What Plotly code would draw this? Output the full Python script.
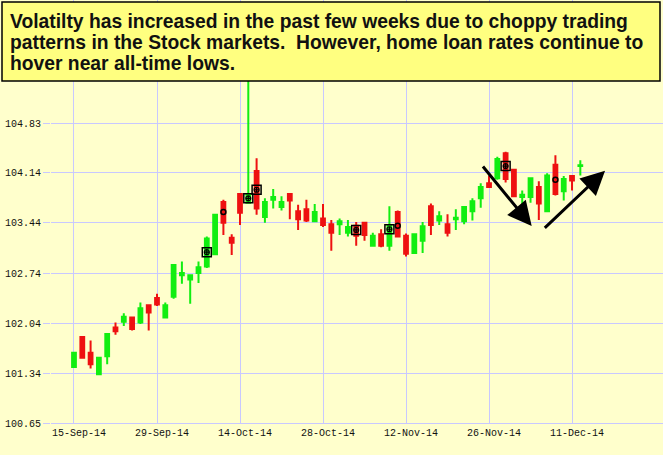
import plotly.graph_objects as go
import pandas as pd

# ---------------- data ----------------
holidays = ["2014-10-13", "2014-11-11", "2014-11-27"]
days = [d for d in pd.bdate_range("2014-09-15", "2014-12-12")
        if d.strftime("%Y-%m-%d") not in holidays]
dates = [d.strftime("%d-%b-%y") for d in days]

opens = [101.43, 101.85, 101.63, 101.33, 101.58, 101.98, 102.06, 102.12, 102.05, 102.29,
         102.39, 102.12, 102.41, 102.71, 102.65, 102.74, 102.83, 103.00, 103.73, 103.23,
         103.84, 103.72, 104.16, 103.52, 103.76, 103.66, 103.84, 103.60, 103.63, 103.46,
         103.50, 103.42, 103.42, 103.30, 103.40, 103.44, 103.12, 103.28, 103.12, 103.59,
         103.26, 103.02, 103.19, 103.67, 103.47, 103.42, 103.49, 103.46, 103.60, 103.78,
         103.99, 104.06, 104.41, 104.18, 103.80, 103.80, 103.94, 103.60, 104.25, 103.88,
         104.09, 104.23]
highs = [101.64, 101.86, 101.80, 101.57, 101.90, 102.05, 102.18, 102.13, 102.33, 102.30,
         102.45, 102.33, 102.86, 102.90, 102.72, 102.90, 103.25, 103.56, 103.76, 103.28,
         103.85, 105.95, 104.34, 103.78, 103.91, 103.81, 103.85, 103.69, 103.76, 103.70,
         103.70, 103.48, 103.50, 103.48, 103.45, 103.45, 103.30, 103.35, 103.67, 103.61,
         103.29, 103.29, 103.45, 103.71, 103.60, 103.56, 103.63, 103.67, 103.78, 103.99,
         104.10, 104.36, 104.43, 104.19, 103.89, 104.07, 104.02, 104.13, 104.38, 104.09,
         104.10, 104.31]
lows = [101.42, 101.55, 101.41, 101.32, 101.47, 101.88, 102.00, 101.94, 102.03, 101.94,
        102.28, 102.11, 102.38, 102.59, 102.31, 102.60, 102.81, 102.99, 103.27, 102.99,
        103.41, 103.71, 103.55, 103.44, 103.64, 103.61, 103.49, 103.34, 103.45, 103.45,
        103.38, 103.05, 103.27, 103.25, 103.12, 103.19, 103.11, 103.10, 103.05, 103.24,
        102.97, 103.01, 103.02, 103.27, 103.41, 103.25, 103.34, 103.42, 103.47, 103.65,
        103.93, 104.04, 104.00, 103.80, 103.67, 103.72, 103.48, 103.59, 103.82, 103.75,
        103.89, 104.10]
closes = [101.63, 101.56, 101.47, 101.56, 101.89, 101.93, 102.13, 101.96, 102.25, 102.19,
          102.30, 102.29, 102.85, 102.74, 102.71, 102.82, 103.22, 103.55, 103.44, 103.16,
          103.58, 103.84, 103.64, 103.73, 103.80, 103.73, 103.75, 103.49, 103.47, 103.59,
          103.41, 103.30, 103.46, 103.38, 103.26, 103.27, 103.26, 103.12, 103.41, 103.25,
          103.01, 103.28, 103.39, 103.41, 103.53, 103.30, 103.51, 103.66, 103.74, 103.94,
          103.94, 104.33, 104.05, 103.81, 103.83, 104.06, 103.71, 104.10, 103.84, 104.05,
          104.03, 104.24]

box_idx = [16, 21, 22, 34, 38, 52]
box_val = [103.03, 103.78, 103.90, 103.34, 103.35, 104.23]
circle_idx = [18, 39, 58]
circle_val = [103.59, 103.40, 104.04]

ytick_labels = ["100.65", "101.34", "102.04", "102.74", "103.44", "104.14", "104.83"]
xtick_labels = dates[::10]

arrow_tail_x = [49.12, 56.54]
arrow_tail_y = [104.245, 103.349]
arrow_head_x = [55.14, 63.98]
arrow_head_y = [103.395, 104.165]

title_lines = [
    "Volatilty has increased in the past few weeks due to choppy trading",
    "patterns in the Stock markets.\u00a0 However, home loan rates continue to",
    "hover near all-time lows.",
]

# ---------------- figure ----------------
GREEN = "#11EE11"
RED = "#EE1111"
GRID = "#C8C8FF"
BG = "#FFFFCC"

fig = go.Figure()
fig.add_trace(go.Candlestick(
    x=dates, open=opens, high=highs, low=lows, close=closes,
    increasing=dict(line=dict(color=GREEN, width=2), fillcolor=GREEN),
    decreasing=dict(line=dict(color=RED, width=2), fillcolor=RED),
    whiskerwidth=0, showlegend=False, hoverinfo="skip",
))
fig.add_trace(go.Scatter(
    x=[dates[i] for i in box_idx], y=box_val, mode="markers",
    marker=dict(symbol="square-open", size=9, color="black", line=dict(width=1.5, color="black")),
    showlegend=False, hoverinfo="skip",
))
fig.add_trace(go.Scatter(
    x=[dates[i] for i in box_idx], y=box_val, mode="markers",
    marker=dict(symbol="circle-cross-open", size=5, color="black", line=dict(width=1.2, color="black")),
    showlegend=False, hoverinfo="skip",
))
fig.add_trace(go.Scatter(
    x=[dates[i] for i in circle_idx], y=circle_val, mode="markers",
    marker=dict(symbol="circle-open", size=5, color="black", line=dict(width=1.5, color="black")),
    showlegend=False, hoverinfo="skip",
))

annotations = []
for tx, ty, hx, hy in zip(arrow_tail_x, arrow_tail_y, arrow_head_x, arrow_head_y):
    annotations.append(dict(
        x=hx, y=hy, ax=tx, ay=ty, xref="x", yref="y", axref="x", ayref="y",
        showarrow=True, arrowhead=2, arrowsize=1.6, arrowwidth=3, arrowcolor="black", text="",
    ))

PLOT_H = 423.0
PLOT_W = 612.0
L = 51.0
line_centers = [21.5, 42.5, 63.5]
for txt, yc in zip(title_lines, line_centers):
    annotations.append(dict(
        text="<b>" + txt + "</b>", xref="paper", yref="paper",
        x=(8 - L) / PLOT_W, y=1 - yc / PLOT_H, xanchor="left", yanchor="middle",
        showarrow=False, font=dict(family="Liberation Sans, Arial, sans-serif", size=19.3, color="#111111"),
    ))

shapes = [dict(
    type="rect", xref="paper", yref="paper", layer="above",
    x0=(2 - L) / PLOT_W, x1=(660 - L) / PLOT_W, y0=1 - 81 / PLOT_H, y1=1 - 2 / PLOT_H,
    fillcolor="#FFFF80", line=dict(color="black", width=1.5),
)]

fig.update_layout(
    width=663, height=455,
    margin=dict(l=51, r=0, t=0, b=32),
    paper_bgcolor=BG, plot_bgcolor=BG,
    showlegend=False, boxgap=0.35,
    annotations=annotations, shapes=shapes,
    xaxis=dict(
        type="category", categoryorder="array", categoryarray=dates,
        range=[-2.77, 70.96], rangeslider=dict(visible=False),
        tickmode="array", tickvals=xtick_labels, ticktext=xtick_labels,
        showgrid=True, gridcolor=GRID, gridwidth=1,
        showline=True, linecolor=GRID, linewidth=1, ticks="",
        tickfont=dict(family="Liberation Mono, DejaVu Sans Mono, monospace", size=10, color="#111111"),
        ticklabelshift=5, fixedrange=True,
    ),
    yaxis=dict(
        range=[100.65, 106.544],
        tickmode="array", tickvals=[float(v) for v in ytick_labels], ticktext=ytick_labels,
        showgrid=True, gridcolor=GRID, gridwidth=1, zeroline=False, showline=False,
        ticks="outside", ticklen=7, tickcolor=GRID, tickwidth=1,
        tickfont=dict(family="Liberation Mono, DejaVu Sans Mono, monospace", size=10, color="#111111"),
        fixedrange=True,
    ),
)

fig.write_html(
    "out.html",
    config={"displayModeBar": False, "staticPlot": True},
    post_script="document.body.style.margin='0';document.body.style.padding='0';"
                "document.body.style.overflow='hidden';document.body.style.background='" + BG + "';",
)
